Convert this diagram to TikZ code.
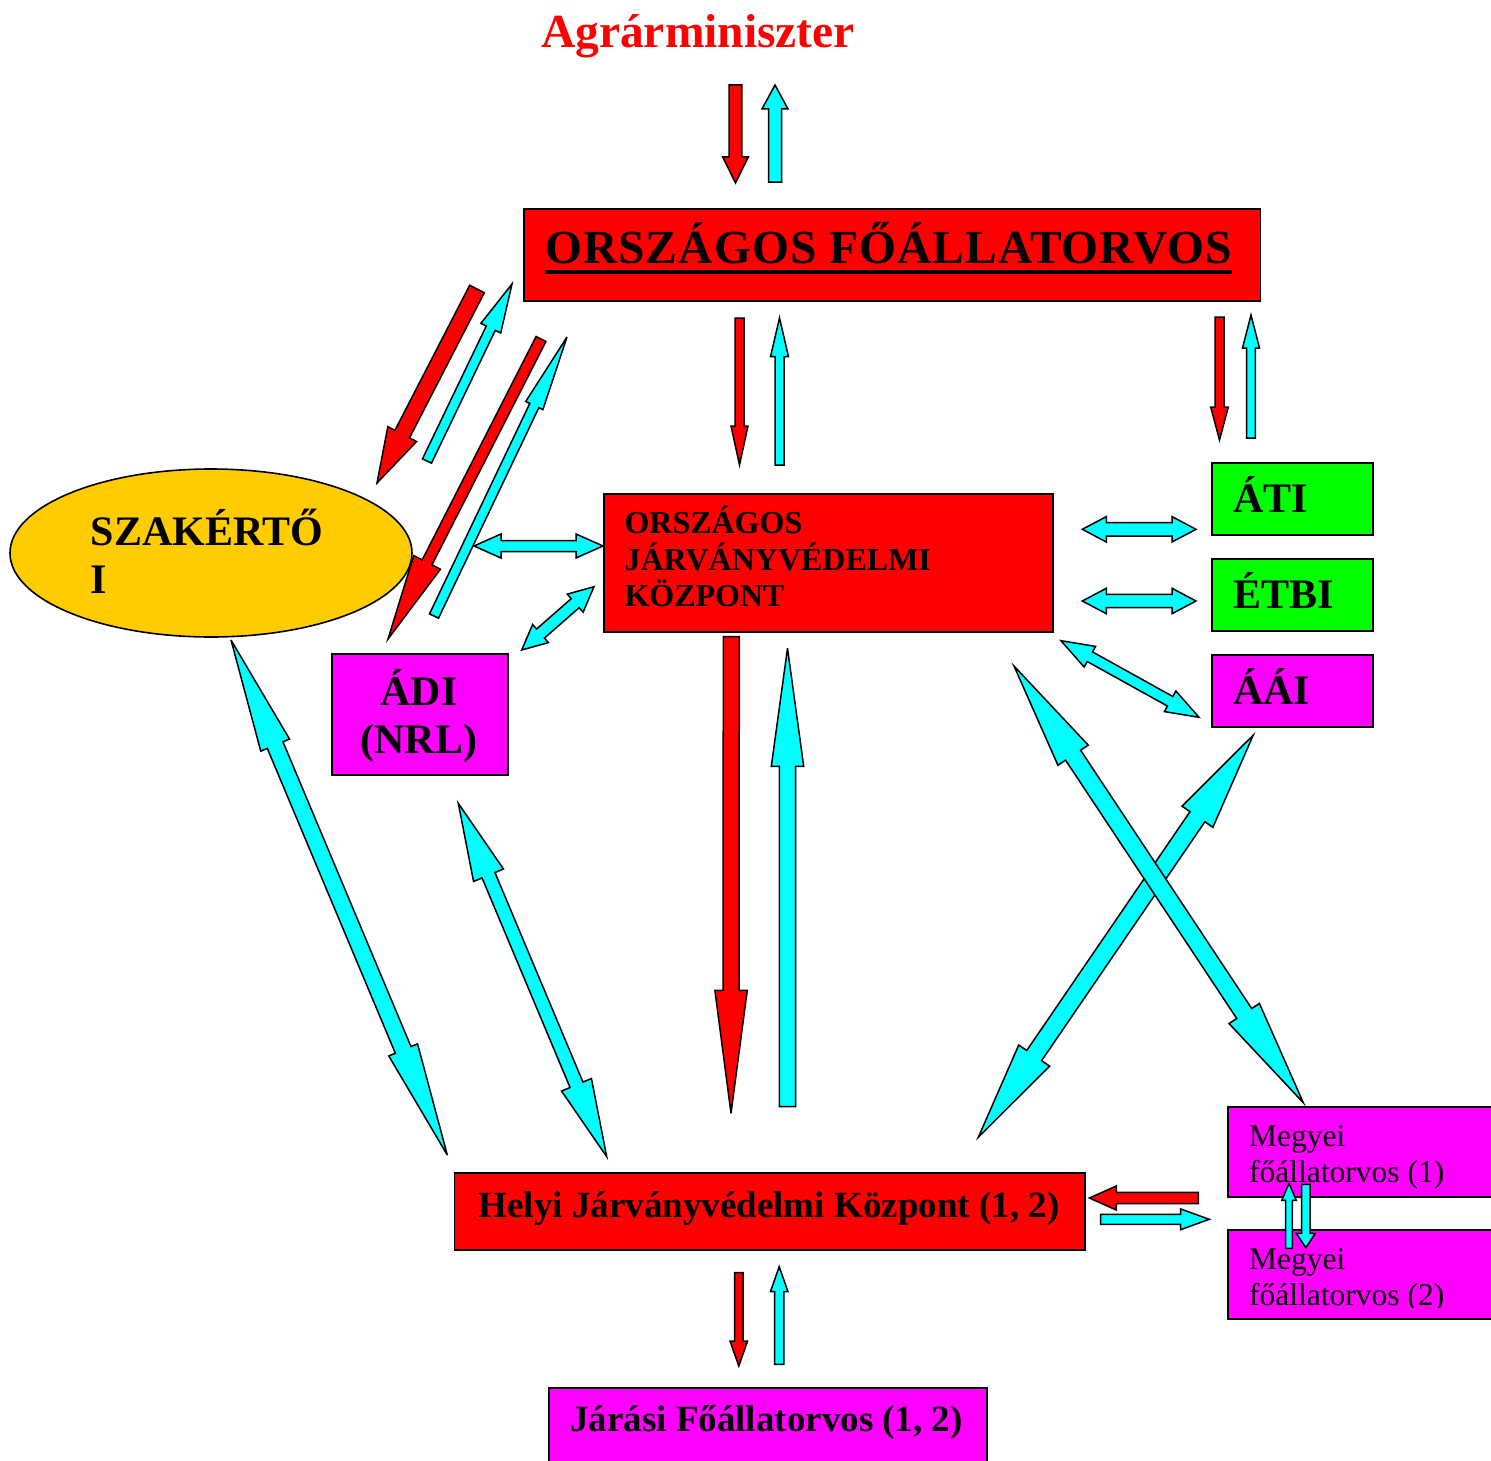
\documentclass[tikz,border=0pt]{standalone}
\usepackage{fontspec}
\setmainfont{Liberation Serif}
\usetikzlibrary{calc,shapes.geometric}
\definecolor{cyanA}{RGB}{0,255,255}
\definecolor{redA}{RGB}{255,0,0}
\definecolor{magA}{RGB}{255,0,255}
\definecolor{greenA}{RGB}{0,255,0}
\definecolor{goldA}{RGB}{255,204,0}
\newcommand{\fsz}[1]{\fontsize{#1}{#1}\selectfont}
% single block arrow: from, to, shaft half width, head half width, head length, fill
\newcommand{\onearrow}[6]{%
  \coordinate (hb) at ($(#2)!#5!(#1)$);
  \draw[blockarrow, fill=#6] ($(#1)!#3!90:(#2)$) -- ($(hb)!#3!90:(#2)$) -- ($(hb)!#4!90:(#2)$) -- (#2)
    -- ($(hb)!#4!-90:(#2)$) -- ($(hb)!#3!-90:(#2)$) -- ($(#1)!#3!-90:(#2)$) -- cycle;}
% double block arrow
\newcommand{\twoarrow}[6]{%
  \coordinate (ha) at ($(#1)!#5!(#2)$);
  \coordinate (hb) at ($(#2)!#5!(#1)$);
  \draw[blockarrow, fill=#6] (#1) -- ($(ha)!#4!90:(#2)$) -- ($(ha)!#3!90:(#2)$) -- ($(hb)!#3!90:(#2)$)
    -- ($(hb)!#4!90:(#2)$) -- (#2) -- ($(hb)!#4!-90:(#2)$) -- ($(hb)!#3!-90:(#2)$)
    -- ($(ha)!#3!-90:(#2)$) -- ($(ha)!#4!-90:(#2)$) -- cycle;}
\begin{document}
\begin{tikzpicture}[x=1pt,y=-1pt,
  blockarrow/.style={draw=black, line width=1.5pt, line join=miter, miter limit=6},
  box/.style={draw=black, line width=1.8pt, inner sep=0pt, anchor=north west},
  lbl/.style={inner sep=0pt, anchor=base west, font=\fsz{42}\bfseries},
  small/.style={inner sep=0pt, anchor=base west, font=\fsz{31.5}}]
\useasboundingbox (0,0) rectangle (1491,1461);
\clip (0,0) rectangle (1491,1461);

% ---------- boxes ----------
\node[box, fill=redA, minimum width=736.8pt, minimum height=92.3pt] (of) at (522.7,207.7) {};
\node[box, fill=redA, minimum width=449.6pt, minimum height=138pt] (ojk) at (602.7,492.7) {};
\node[box, fill=greenA, minimum width=161pt, minimum height=72pt] (ati) at (1211,462) {};
\node[box, fill=greenA, minimum width=161pt, minimum height=72pt] (etbi) at (1211,558) {};
\node[box, fill=magA, minimum width=161pt, minimum height=72pt] (aai) at (1211,654) {};
\node[ellipse, draw=black, line width=1.6pt, fill=goldA, inner sep=0pt,
      minimum width=402pt, minimum height=168pt] (szak) at (211,553) {};
\node[box, fill=magA, minimum width=176.6pt, minimum height=121pt] (adi) at (330.7,653.3) {};
\node[box, fill=redA, minimum width=630.5pt, minimum height=77.3pt] (helyi) at (453.5,1171.7) {};
\node[box, fill=magA, minimum width=270pt, minimum height=89.7pt] (meg1) at (1226.7,1106) {};
\node[box, fill=magA, minimum width=270pt, minimum height=88.4pt] (meg2) at (1226.7,1229.3) {};
\node[box, fill=magA, minimum width=438.6pt, minimum height=80pt] (jar) at (547.7,1386.7) {};

% ---------- texts ----------
\node[lbl, text=redA, font=\fsz{47.5}\bfseries, anchor=base] (agr) at (698,48) {Agrárminiszter};
\node[lbl, font=\fsz{47.5}\bfseries\addfontfeatures{LetterSpace=2.2}] (oft) at (545,263.3) {ORSZÁGOS FŐÁLLATORVOS};
\fill ($(oft.base west)+(0,6.4)$) rectangle ($(oft.base east)+(-1,10.4)$);
\node[lbl, font=\fsz{32}\bfseries] (ojk1) at (624.3,533.3) {ORSZÁGOS};
\node[lbl, font=\fsz{32}\bfseries] (ojk2) at (624.3,570) {JÁRVÁNYVÉDELMI};
\node[lbl, font=\fsz{32}\bfseries] (ojk3) at (624.3,606.7) {KÖZPONT};
\node[lbl] (atit) at (1233,512) {ÁTI};
\node[lbl] (etbit) at (1233,608.3) {ÉTBI};
\node[lbl] (aait) at (1233,704.3) {ÁÁI};
\node[lbl] (szak1) at (90.7,545) {SZAKÉRTŐ};
\node[lbl] (szak2) at (90.7,593.3) {I};
\node[lbl, anchor=base] (adi1) at (419,705) {ÁDI};
\node[lbl, anchor=base] (adi2) at (419,753.3) {(NRL)};
\node[lbl, font=\fsz{37}\bfseries, anchor=base] (helyit) at (769,1217.3) {Helyi Járványvédelmi Központ (1, 2)};
\node[lbl, font=\fsz{37}\bfseries, anchor=base] (jart) at (766.5,1431.7) {Járási Főállatorvos (1, 2)};
\node[small] (m1a) at (1249,1146.7) {Megyei};
\node[small] (m1b) at (1249,1182.7) {főállatorvos (1)};
\node[small] (m2a) at (1249,1269.3) {Megyei};
\begin{scope}
  \clip (1220,1229) rectangle (1495,1307);
  \node[small] (m2b) at (1249,1305) {főállatorvos (2)};
\end{scope}

% ---------- arrow end points ----------
\coordinate (a1s) at (735.5,85);   \coordinate (a1e) at (735.5,183);
\coordinate (a2s) at (775,182);    \coordinate (a2e) at (775,85);
\coordinate (a3s) at (477,289);    \coordinate (a3e) at (377,483);
\coordinate (a4s) at (427,461);    \coordinate (a4e) at (512,284);
\coordinate (a5s) at (541,339);    \coordinate (a5e) at (388,639);
\coordinate (a6s) at (434,616);    \coordinate (a6e) at (567,337);
\coordinate (a7s) at (739.5,318);  \coordinate (a7e) at (739.5,465);
\coordinate (a8s) at (779.5,465);  \coordinate (a8e) at (779.5,318);
\coordinate (a9s) at (1219.5,317); \coordinate (a9e) at (1219.5,440);
\coordinate (a10s) at (1251,438);  \coordinate (a10e) at (1251,315);
\coordinate (d1a) at (474,546);    \coordinate (d1b) at (603,546);
\coordinate (d2a) at (521.7,650);  \coordinate (d2b) at (594,586.7);
\coordinate (d3a) at (1082.3,529.3); \coordinate (d3b) at (1196,529.3);
\coordinate (d4a) at (1082.3,601); \coordinate (d4b) at (1196,601);
\coordinate (d5a) at (1061,640.7); \coordinate (d5b) at (1199,717.3);
\coordinate (b1s) at (731.3,636.7); \coordinate (b1e) at (731,1113.3);
\coordinate (b2s) at (787.5,1106.7); \coordinate (b2e) at (787.5,648.3);
\coordinate (D1a) at (231,640);    \coordinate (D1b) at (447.3,1155);
\coordinate (D2a) at (458.3,803.3); \coordinate (D2b) at (606.7,1156.7);
\coordinate (D3a) at (1014,666);   \coordinate (D3b) at (1303.3,1102.7);
\coordinate (D4a) at (1253.3,735); \coordinate (D4b) at (978.3,1137.3);
\coordinate (h1s) at (1198.3,1198); \coordinate (h1e) at (1089.3,1198);
\coordinate (h2s) at (1100.7,1219.3); \coordinate (h2e) at (1209.3,1219.3);
\coordinate (m1s) at (1289,1248.3); \coordinate (m1e) at (1289,1183.3);
\coordinate (m2s) at (1305.8,1184.3); \coordinate (m2e) at (1305.8,1247.7);
\coordinate (v1s) at (738.8,1272.7); \coordinate (v1e) at (738.8,1366);
\coordinate (v2s) at (779.2,1364.3); \coordinate (v2e) at (779.2,1266.7);

% ---------- arrows ----------
\onearrow{a1s}{a1e}{6.3pt}{12.8pt}{26pt}{redA}
\onearrow{a2s}{a2e}{6.5pt}{13pt}{24pt}{cyanA}
\onearrow{a3s}{a3e}{8.2pt}{16.2pt}{55pt}{redA}
\onearrow{a4s}{a4e}{5pt}{11pt}{49pt}{cyanA}
\onearrow{a5s}{a5e}{5.5pt}{15pt}{86pt}{redA}
\onearrow{a6s}{a6e}{5pt}{9.5pt}{76pt}{cyanA}
\onearrow{a7s}{a7e}{4.5pt}{8.5pt}{39pt}{redA}
\onearrow{a8s}{a8e}{4.5pt}{9pt}{38.7pt}{cyanA}
\onearrow{a9s}{a9e}{4.5pt}{8.8pt}{33pt}{redA}
\onearrow{a10s}{a10e}{4.3pt}{8.5pt}{33pt}{cyanA}
\twoarrow{d1a}{d1b}{5.5pt}{12pt}{27pt}{cyanA}
\twoarrow{d2a}{d2b}{6pt}{12pt}{25pt}{cyanA}
\twoarrow{d3a}{d3b}{6.7pt}{12.7pt}{24pt}{cyanA}
\twoarrow{d4a}{d4b}{6.7pt}{12.7pt}{24pt}{cyanA}
\twoarrow{d5a}{d5b}{5.5pt}{11.8pt}{33pt}{cyanA}
\onearrow{b1s}{b1e}{8pt}{16.2pt}{123pt}{redA}
\onearrow{b2s}{b2e}{8.2pt}{16.2pt}{118pt}{cyanA}
\twoarrow{D1a}{D1b}{8.5pt}{15.6pt}{114pt}{cyanA}
\twoarrow{D2a}{D2b}{7pt}{16.2pt}{78pt}{cyanA}
\twoarrow{D4a}{D4b}{9pt}{18.7pt}{99pt}{cyanA}
\twoarrow{D3a}{D3b}{9pt}{18.2pt}{107pt}{cyanA}
\onearrow{h1s}{h1e}{5.7pt}{12pt}{27pt}{redA}
\onearrow{h2s}{h2e}{5pt}{10.3pt}{28.6pt}{cyanA}
\onearrow{m1s}{m1e}{3.3pt}{7.2pt}{17pt}{cyanA}
\onearrow{m2s}{m2e}{4.2pt}{9.5pt}{14.4pt}{cyanA}
\onearrow{v1s}{v1e}{4.2pt}{8.8pt}{25pt}{redA}
\onearrow{v2s}{v2e}{4.6pt}{8.8pt}{25pt}{cyanA}
\end{tikzpicture}
\end{document}
